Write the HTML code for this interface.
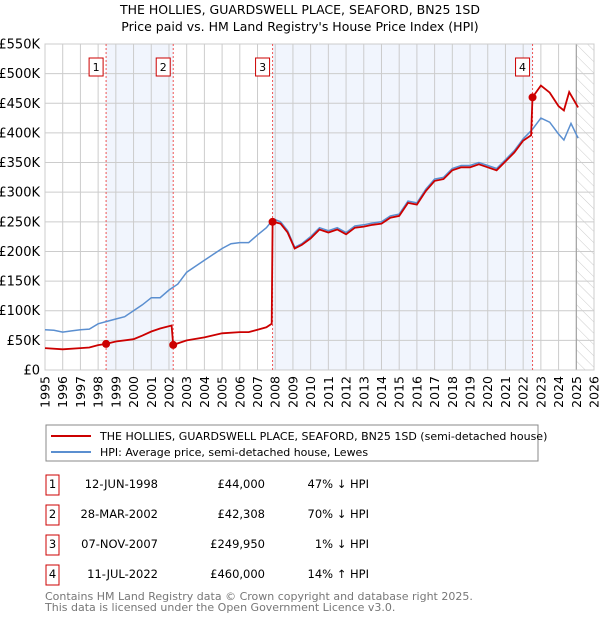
<!DOCTYPE html>
<html><head><meta charset="utf-8"><style>
body{margin:0;background:#fff;font-family:"Liberation Sans","DejaVu Sans",sans-serif;}
svg text{font-family:"DejaVu Sans","Liberation Sans",sans-serif;}
</style></head><body>
<svg id="c" width="600" height="620" xmlns="http://www.w3.org/2000/svg">
<defs><pattern id="hatch" width="8" height="8" patternUnits="userSpaceOnUse" patternTransform="rotate(-45)"><line x1="0" y1="0" x2="0" y2="8" stroke="#ccc" stroke-width="1"/></pattern></defs>
<text x="300" y="14" text-anchor="middle" font-size="12.5" fill="#000">THE HOLLIES, GUARDSWELL PLACE, SEAFORD, BN25 1SD</text>
<text x="300" y="31" text-anchor="middle" font-size="12.5" fill="#000">Price paid vs. HM Land Registry's House Price Index (HPI)</text>
<g id="plot"></g>
<g>
<rect x="46" y="425" width="492" height="36" fill="#fff" stroke="#888"/>
<line x1="51" y1="436" x2="91" y2="436" stroke="#cc0000" stroke-width="2"/>
<text x="100" y="440" font-size="11">THE HOLLIES, GUARDSWELL PLACE, SEAFORD, BN25 1SD (semi-detached house)</text>
<line x1="51" y1="452" x2="91" y2="452" stroke="#5b8fd0" stroke-width="2"/>
<text x="100" y="456" font-size="11">HPI: Average price, semi-detached house, Lewes</text>
</g>
<g id="table" font-size="11.5"></g>
<text x="45" y="600" font-size="11" fill="#777">Contains HM Land Registry data © Crown copyright and database right 2025.</text>
<text x="45" y="611" font-size="11" fill="#777">This data is licensed under the Open Government Licence v3.0.</text>
</svg>
<script>
const hpiYears=[1995,1995.5,1996,1996.5,1997,1997.5,1998,1998.5,1999,1999.5,2000,2000.5,2001,2001.5,2002,2002.5,2003,2003.5,2004,2004.5,2005,2005.5,2006,2006.5,2007,2007.5,2007.9,2008.3,2008.7,2009.1,2009.5,2010,2010.5,2011,2011.5,2012,2012.5,2013,2013.5,2014,2014.5,2015,2015.5,2016,2016.5,2017,2017.5,2018,2018.5,2019,2019.5,2020,2020.5,2021,2021.5,2022,2022.5,2023,2023.5,2024,2024.3,2024.7,2025.1];
const hpiValues=[68,67,64,66,68,69,78,82,86,90,100,110,122,122,135,145,165,175,185,195,205,213,215,215,228,240,255,250,235,207,213,225,240,235,240,232,243,245,248,250,260,263,285,282,305,322,325,340,345,345,350,345,340,355,370,390,405,425,418,398,388,416,391];
const ppYears=[1995,1996,1997,1997.5,1998,1998.45,1999,2000,2000.5,2001,2001.5,2002.15,2002.24,2003,2004,2005,2006,2006.5,2007,2007.5,2007.8,2007.85,2008.3,2008.7,2009.1,2009.5,2010,2010.5,2011,2011.5,2012,2012.5,2013,2013.5,2014,2014.5,2015,2015.5,2016,2016.5,2017,2017.5,2018,2018.5,2019,2019.5,2020,2020.5,2021,2021.5,2022,2022.45,2022.53,2023,2023.5,2024,2024.3,2024.6,2025.1];
const ppValues=[37,35,37,38,42,44,48,52,58,65,70,75,42.3,50,55,62,64,64,68,72,78,249.95,247,232,205,211,222,237,232,237,229,240,242,245,247,257,260,282,279,302,319,322,337,342,342,347,342,337,352,367,387,396,460,480,468,445,438,469,443];
const yTicks=[0,50,100,150,200,250,300,350,400,450,500,550];
const yTickLabels=["£0","£50K","£100K","£150K","£200K","£250K","£300K","£350K","£400K","£450K","£500K","£550K"];
const xTicks=[1995,1996,1997,1998,1999,2000,2001,2002,2003,2004,2005,2006,2007,2008,2009,2010,2011,2012,2013,2014,2015,2016,2017,2018,2019,2020,2021,2022,2023,2024,2025,2026];
const saleNums=["1","2","3","4"];
const saleYears=[1998.45,2002.24,2007.85,2022.53];
const saleValues=[44,42.308,249.95,460];
const saleDates=["12-JUN-1998","28-MAR-2002","07-NOV-2007","11-JUL-2022"];
const salePrices=["£44,000","£42,308","£249,950","£460,000"];
const saleHpi=["47% ↓ HPI","70% ↓ HPI","1% ↓ HPI","14% ↑ HPI"];

const X0=45,X1=594,Y0=370,Y1=44;
const xs=y=>X0+(y-1995)/(2026-1995)*(X1-X0);
const ys=v=>Y0-v/550*(Y0-Y1);
const NS="http://www.w3.org/2000/svg";
const g=document.getElementById('plot');
function mk(tag,attrs,parent){const e=document.createElementNS(NS,tag);for(const k in attrs)e.setAttribute(k,attrs[k]);(parent||g).appendChild(e);return e;}
for(const [a,b] of [[0,1],[2,3]]){
  const r=mk('rect',{x:xs(saleYears[a]),y:Y1,width:xs(saleYears[b])-xs(saleYears[a]),height:Y0-Y1,fill:'#eef3fc',opacity:0.8});
  
  
}
const h=mk('rect',{x:xs(2025),y:Y1,width:X1-xs(2025),height:Y0-Y1,fill:'url(#hatch)'});


yTicks.forEach((v,i)=>{
  mk('line',{x1:X0,x2:X1,y1:ys(v),y2:ys(v),stroke:'#ccc','stroke-width':1});
  const t=mk('text',{x:40,y:ys(v)+4.5,'text-anchor':'end','font-size':13});
  t.textContent=yTickLabels[i];
  
  
});
xTicks.forEach(yr=>{
  mk('line',{x1:xs(yr),x2:xs(yr),y1:Y1,y2:Y0,stroke:'#ccc','stroke-width':1});
  const t=mk('text',{x:0,y:0,'font-size':12.5,'text-anchor':'end',transform:`translate(${xs(yr)+4.5},${Y0+6}) rotate(-90)`});
  t.textContent=yr;
  
  
});
mk('line',{x1:xs(2025),x2:xs(2025),y1:Y1,y2:Y0,stroke:'#999','stroke-width':1});
mk('rect',{x:X0,y:Y1,width:X1-X0,height:Y0-Y1,fill:'none',stroke:'#ccc'});
saleYears.forEach((yr,i)=>{
  mk('line',{x1:xs(yr),x2:xs(yr),y1:Y1,y2:Y0,stroke:'#e55','stroke-width':1,'stroke-dasharray':'2,2'});
  const bx=mk('rect',{x:xs(yr)-17,y:58,width:14,height:18,fill:'#fff',stroke:'#cc0000'});
  
  
  const t=mk('text',{x:xs(yr)-10,y:71,'text-anchor':'middle','font-size':11});
  t.textContent=saleNums[i];
});
const path=(xa,va)=>xa.map((x,i)=>(i?'L':'M')+xs(x).toFixed(1)+','+ys(va[i]).toFixed(1)).join('');
const hp=mk('path',{d:path(hpiYears,hpiValues),fill:'none',stroke:'#5b8fd0','stroke-width':1.5});


const pp=mk('path',{d:path(ppYears,ppValues),fill:'none',stroke:'#cc0000','stroke-width':1.8});


saleYears.forEach((yr,i)=>{
  const c=mk('circle',{cx:xs(yr),cy:ys(saleValues[i]),r:4,fill:'#cc0000'});
  
  
});
const tb=document.getElementById('table');
saleNums.forEach((n,i)=>{
  const y=488+i*30;
  mk('rect',{x:46,y:y-13,width:13,height:20,fill:'#fff',stroke:'#cc0000'},tb);
  const cells=[[52.5,n,'middle'],[158,saleDates[i],'end'],[265,salePrices[i],'end'],[369,saleHpi[i],'end']];
  cells.forEach(([x,s,a])=>{
    const t=mk('text',{x:x,y:y,'text-anchor':a},tb);
    t.textContent=s;
    
    
  });
});
</script>
</body></html>
